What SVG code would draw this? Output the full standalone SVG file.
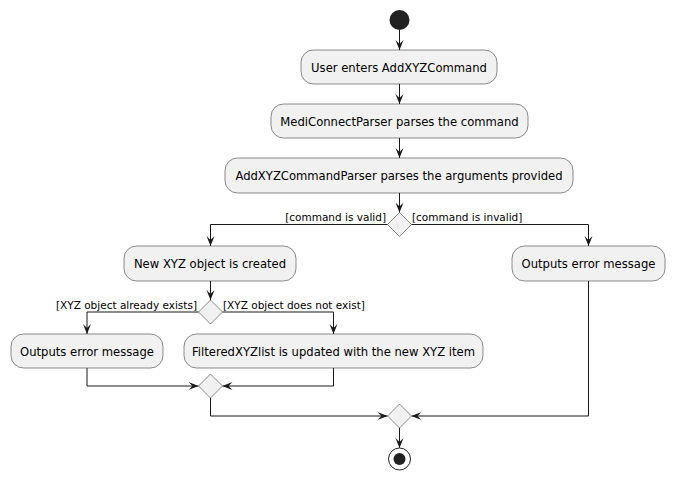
<svg xmlns="http://www.w3.org/2000/svg" width="675" height="480" viewBox="0 0 675 480">
<defs>
<style>
.act{fill:#F1F1F1;stroke:#181818;stroke-width:0.5}
.dia{fill:#F1F1F1;stroke:#181818;stroke-width:0.5}
.t{font-family:"DejaVu Sans","Liberation Sans",sans-serif;font-size:11.6px;fill:#000;text-anchor:middle}
.g{font-family:"DejaVu Sans","Liberation Sans",sans-serif;font-size:10.5px;fill:#000}
.ln{fill:none;stroke:#181818;stroke-width:1}
</style>
<marker id="arr" viewBox="0 0 10 10" refX="10" refY="5" markerWidth="10" markerHeight="10" markerUnits="userSpaceOnUse" orient="auto">
<polygon points="0,1 10,5 0,9 4,5" fill="#181818"/>
</marker>
</defs>
<rect width="675" height="480" fill="#FFFFFF"/>
<g id="connectors">
<path class="ln" d="M399.5,30 V50" marker-end="url(#arr)"/>
<path class="ln" d="M399.5,84 V104" marker-end="url(#arr)"/>
<path class="ln" d="M399.5,138 V158" marker-end="url(#arr)"/>
<path class="ln" d="M399.5,193 V212.5" marker-end="url(#arr)"/>
<path class="ln" d="M387.5,224.5 H210.5 V246" marker-end="url(#arr)"/>
<path class="ln" d="M411.5,224.5 H588.5 V246" marker-end="url(#arr)"/>
<path class="ln" d="M210.5,281 V300" marker-end="url(#arr)"/>
<path class="ln" d="M198.5,312 H87 V334" marker-end="url(#arr)"/>
<path class="ln" d="M222.5,312 H333.5 V334" marker-end="url(#arr)"/>
<path class="ln" d="M87,368 V386 H198.5" marker-end="url(#arr)"/>
<path class="ln" d="M333.5,368 V386 H222.5" marker-end="url(#arr)"/>
<path class="ln" d="M210.5,398 V416 H387.5" marker-end="url(#arr)"/>
<path class="ln" d="M588.5,281 V416 H411.5" marker-end="url(#arr)"/>
<path class="ln" d="M399.5,428 V448" marker-end="url(#arr)"/>
<text class="g" x="386" y="221" text-anchor="end">[command is valid]</text>
<text class="g" x="412" y="221">[command is invalid]</text>
<text class="g" x="197" y="309" text-anchor="end">[XYZ object already exists]</text>
<text class="g" x="223" y="309">[XYZ object does not exist]</text>
</g>
<g id="start"><circle cx="399.5" cy="20" r="10" fill="#222222"/></g>
<g id="n1"><rect class="act" x="301" y="50" width="196" height="34" rx="12.5"/><text class="t" x="399" y="71.5">User enters AddXYZCommand</text></g>
<g id="n2"><rect class="act" x="271" y="104" width="257" height="34" rx="12.5"/><text class="t" x="399.5" y="125.5">MediConnectParser parses the command</text></g>
<g id="n3"><rect class="act" x="225" y="158" width="348" height="35" rx="12.5"/><text class="t" x="399" y="180">AddXYZCommandParser parses the arguments provided</text></g>
<g id="d1"><polygon class="dia" points="399.5,212.5 411.5,224.5 399.5,236.5 387.5,224.5"/></g>
<g id="n4"><rect class="act" x="124" y="246" width="172" height="35" rx="12.5"/><text class="t" x="210" y="268">New XYZ object is created</text></g>
<g id="n5"><rect class="act" x="512" y="246" width="153" height="35" rx="12.5"/><text class="t" x="588.5" y="268">Outputs error message</text></g>
<g id="d2"><polygon class="dia" points="210.5,300 222.5,312 210.5,324 198.5,312"/></g>
<g id="n6"><rect class="act" x="11" y="334" width="152" height="34" rx="12.5"/><text class="t" x="87" y="355.5">Outputs error message</text></g>
<g id="n7"><rect class="act" x="184" y="334" width="299" height="34" rx="12.5"/><text class="t" x="333.5" y="355.5">FilteredXYZlist is updated with the new XYZ item</text></g>
<g id="m1"><polygon class="dia" points="210.5,374 222.5,386 210.5,398 198.5,386"/></g>
<g id="m2"><polygon class="dia" points="399.5,404 411.5,416 399.5,428 387.5,416"/></g>
<g id="end"><circle cx="399.5" cy="459" r="11" fill="none" stroke="#222222" stroke-width="1"/><circle cx="399.5" cy="459" r="6" fill="#222222"/></g>
</svg>
